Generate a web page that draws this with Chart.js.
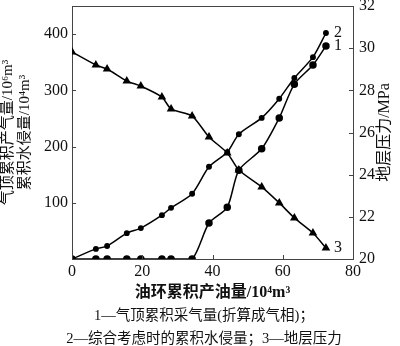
<!DOCTYPE html>
<html>
<head>
<meta charset="utf-8">
<script src="https://cdn.jsdelivr.net/npm/chart.js@4/dist/chart.umd.min.js"></script>
<style>
  body { margin: 0; background: #fff; }
  #wrap { position: relative; width: 400px; height: 346px; }
  .note { position: absolute; left: 4px; width: 400px; text-align: center; line-height: 18px;
          font: 14.5px 'Liberation Serif', 'Noto Sans CJK SC', serif; color: #111; }
</style>
</head>
<body>
<div id="wrap">
  <canvas id="myChart"></canvas>
  <div class="note" style="top:303px">1—气顶累积采气量(折算成气相)；</div>
  <div class="note" style="top:326px">2—综合考虑时的累积水侵量；3—地层压力</div>
</div>
<script>
// 油环累积产油量 /10^4 m3
const oilProd = [0, 6.8, 10, 15.6, 19.6, 25.6, 28.2, 34.2, 39, 44.2, 47.5, 54, 59, 63.3, 68.6, 72.3];
// 1 气顶累积采气量 /10^6 m3
const gasProd = [0, 0, 0, 0, 0, 0, 0, 0, 64, 92, 158, 196, 251, 311, 345, 379];
// 2 累积水侵量 /10^4 m3
const waterInflux = [0, 18, 23, 46, 55, 78, 91, 116, 164, 190, 222, 251, 285, 322, 359, 402];
// 3 地层压力 /MPa
const pressure = [29.82, 29.2, 29.01, 28.44, 28.2, 27.68, 27.12, 26.78, 25.79, 25.03, 24.22, 23.42, 22.66, 21.95, 21.23, 20.52];
const seriesTags = ['1', '2', '3'];

const serif = "'Liberation Serif', 'Noto Sans CJK SC', serif";
const ink = '#111';
const axisColor = '#444';

const toPoints = ys => oilProd.map((x, i) => ({ x: x, y: ys[i] }));

// 去掉端点标签留出的空白, 让坐标区贴住固定边界
const noEdgePad = s => { s.paddingTop = 0; s.paddingBottom = 0; s.paddingLeft = 0; s.paddingRight = 0; };

// 内向刻度、上边框、曲线编号、右侧轴标题
const extras = {
    id: 'extras',
    afterDraw(chart) {
        const ctx = chart.ctx;
        const area = chart.chartArea;
        const tickLen = 4;
        ctx.save();
        ctx.strokeStyle = axisColor;
        ctx.lineWidth = 1;
        ctx.beginPath();
        ctx.moveTo(area.left, area.top + 0.5);
        ctx.lineTo(area.right, area.top + 0.5);
        const sx = chart.scales.x, sy = chart.scales.y, sy1 = chart.scales.y1;
        sx.ticks.forEach(t => {
            const px = Math.round(sx.getPixelForValue(t.value)) + 0.5;
            ctx.moveTo(px, area.bottom);
            ctx.lineTo(px, area.bottom - tickLen);
        });
        sy.ticks.forEach(t => {
            const py = Math.round(sy.getPixelForValue(t.value)) + 0.5;
            ctx.moveTo(area.left, py);
            ctx.lineTo(area.left + tickLen, py);
        });
        sy1.ticks.forEach(t => {
            const py = Math.round(sy1.getPixelForValue(t.value)) + 0.5;
            ctx.moveTo(area.right, py);
            ctx.lineTo(area.right - tickLen, py);
        });
        ctx.stroke();

        ctx.fillStyle = ink;
        ctx.font = '16px ' + serif;
        ctx.textAlign = 'left';
        ctx.textBaseline = 'middle';
        chart.data.datasets.forEach((ds, i) => {
            const pts = chart.getDatasetMeta(i).data;
            const last = pts[pts.length - 1];
            ctx.fillText(seriesTags[i], last.x + 8, last.y);
        });

        ctx.translate(chart.width - 15, (area.top + area.bottom) / 2);
        ctx.rotate(-Math.PI / 2);
        ctx.textAlign = 'center';
        ctx.fillText('地层压力/MPa', 0, 0);
        ctx.restore();
    }
};

const myChart = new Chart(document.getElementById('myChart').getContext('2d'), {
    type: 'line',
    data: {
        datasets: [{
            label: '气顶累积采气量',
            data: toPoints(gasProd),
            yAxisID: 'y',
            borderColor: '#000',
            backgroundColor: '#000',
            borderWidth: 1.5,
            pointStyle: 'circle',
            pointRadius: 3,
            tension: 0.25
        }, {
            label: '累积水侵量',
            data: toPoints(waterInflux),
            yAxisID: 'y',
            borderColor: '#000',
            backgroundColor: '#000',
            borderWidth: 1.5,
            pointStyle: 'circle',
            pointRadius: 2.2,
            tension: 0.25
        }, {
            label: '地层压力',
            data: toPoints(pressure),
            yAxisID: 'y1',
            borderColor: '#000',
            backgroundColor: '#000',
            borderWidth: 1.5,
            pointStyle: 'triangle',
            pointRadius: 3.5,
            tension: 0.25
        }]
    },
    options: {
        responsive: true,
        maintainAspectRatio: false,
        animation: false,
        layout: { padding: { top: 6, left: 0, right: 0, bottom: 0 } },
        plugins: { legend: { display: false }, tooltip: { enabled: false } },
        scales: {
            x: {
                type: 'linear',
                min: 0,
                max: 80,
                grid: { display: false, drawTicks: false },
                border: { display: true, color: axisColor },
                ticks: { stepSize: 20, padding: 3, color: ink, font: { family: serif, size: 16 } },
                title: {
                    display: true,
                    text: '油环累积产油量/10⁴m³',
                    color: ink,
                    font: { family: serif, size: 16, weight: 'bold' },
                    padding: { top: 0, bottom: 44 }
                },
                afterFit: s => { s.height = 87; noEdgePad(s); }
            },
            y: {
                position: 'left',
                min: 0,
                max: 450,
                grid: { display: false, drawTicks: false },
                border: { display: true, color: axisColor },
                ticks: {
                    stepSize: 100,
                    includeBounds: false,
                    padding: 4,
                    color: ink,
                    font: { family: serif, size: 16 },
                    callback: v => v === 0 ? '' : v
                },
                title: {
                    display: true,
                    text: ['气顶累积产气量/10⁶m³', '累积水侵量/10⁴m³'],
                    color: ink,
                    font: { family: serif, size: 15, lineHeight: '16.5px' },
                    padding: { top: 0, bottom: 0 }
                },
                afterFit: s => { s.width = 72; noEdgePad(s); }
            },
            y1: {
                position: 'right',
                min: 20,
                max: 32,
                grid: { display: false, drawTicks: false },
                border: { display: true, color: axisColor },
                ticks: { stepSize: 2, padding: 6, color: ink, font: { family: serif, size: 16 } },
                afterFit: s => { s.width = 47; noEdgePad(s); }
            }
        }
    },
    plugins: [extras]
});
</script>
</body>
</html>
